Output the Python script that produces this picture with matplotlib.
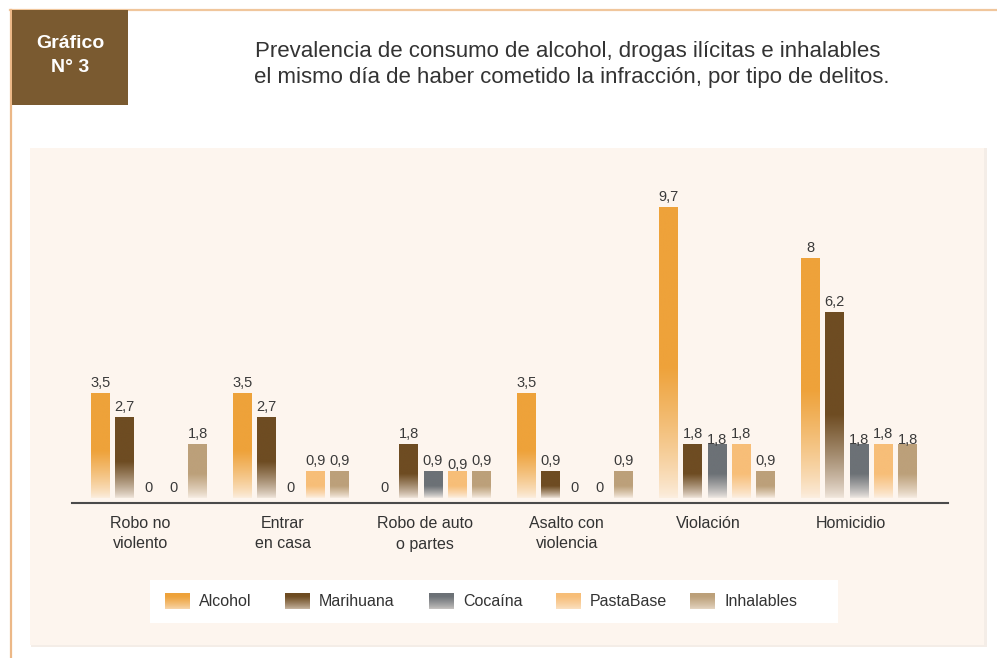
import numpy as np
import matplotlib
matplotlib.use("Agg")
import matplotlib.pyplot as plt
import matplotlib.font_manager as fm
from matplotlib.patches import Rectangle
from matplotlib.colors import to_rgb

# ---------------- data ----------------
categories = ["Robo no\nviolento", "Entrar\nen casa", "Robo de auto\no partes",
              "Asalto con\nviolencia", "Violación", "Homicidio"]
series = ["Alcohol", "Marihuana", "Cocaína", "PastaBase", "Inhalables"]
alcohol    = [3.5, 3.5, 0.0, 3.5, 9.7, 8.0]
marihuana  = [2.7, 2.7, 1.8, 0.9, 1.8, 6.2]
cocaina    = [0.0, 0.0, 0.9, 0.0, 1.8, 1.8]
pastabase  = [0.0, 0.9, 0.9, 0.0, 1.8, 1.8]
inhalables = [1.8, 0.9, 0.9, 0.9, 0.9, 1.8]
values = [alcohol, marihuana, cocaina, pastabase, inhalables]
title_lines = ["Prevalencia de consumo de alcohol, drogas ilícitas e inhalables",
               "el mismo día de haber cometido la infracción, por tipo de delitos."]

# ---------------- style ----------------
colors = ["#eea23a", "#6e4c22", "#6c7176", "#f7be78", "#bca07a"]
panel_bg = "#fdf5ee"
# small vertical nudges (points) for a few value labels, to avoid overlaps
label_nudge = {(2, 3): -3, (4, 2): -4, (5, 2): -4, (5, 4): -4}

names = {f.name for f in fm.fontManager.ttflist}
FONT = "Liberation Sans Narrow" if "Liberation Sans Narrow" in names else "Liberation Sans"
plt.rcParams["font.family"] = [FONT, "DejaVu Sans"]

W, H = 997, 658
fig = plt.figure(figsize=(W / 100, H / 100), dpi=100)
fig.patch.set_facecolor("white")

def fx(x):
    return x / W

def fy(y):
    return 1 - y / H

# frame lines
fig.add_artist(plt.Line2D([fx(10), fx(997)], [fy(10), fy(10)], color="#f0c69c", lw=1.6, zorder=-5))
fig.add_artist(plt.Line2D([fx(11), fx(11)], [fy(10), fy(658)], color="#ecb887", lw=1.6, zorder=-5))

# brown tag box
fig.add_artist(Rectangle((fx(12), fy(105)), fx(116), 95 / H, transform=fig.transFigure,
                         facecolor="#7a5a30", edgecolor="none", zorder=-4))
fig.text(fx(70), fy(44), "Gráfico", color="white", fontsize=14, fontweight="bold",
         ha="center", va="center")
fig.text(fx(70), fy(68), "N° 3", color="white", fontsize=14, fontweight="bold",
         ha="center", va="center")

# title
fig.text(fx(568), fy(52), title_lines[0], color="#333333", fontsize=16, ha="center", va="center")
fig.text(fx(572), fy(78), title_lines[1], color="#333333", fontsize=16, ha="center", va="center")

# panel (with faint shadow)
fig.add_artist(Rectangle((fx(31), fy(647)), 956 / W, 499 / H, transform=fig.transFigure,
                         facecolor="#f4ede7", edgecolor="none", zorder=-6))
fig.add_artist(Rectangle((fx(30), fy(645)), 954 / W, 497 / H, transform=fig.transFigure,
                         facecolor=panel_bg, edgecolor="none", zorder=-5))

# ---------------- main axes ----------------
ax = fig.add_axes([fx(72), fy(503), 876 / W, 330 / H])
ax.set_facecolor("none")
XLIM = (-0.542, 5.627)
YLIM = (-0.17, 10.83)
pitch = 0.171
bw = 0.130
x = np.arange(len(categories))

bg = np.array(to_rgb(panel_bg))

def gradient(color, n=200, lo=0.08, span=0.45, power=0.8):
    c = np.array(to_rgb(color))
    t = np.linspace(0, 1, n)  # 0 bottom -> 1 top
    m = np.clip(t / span, 0, 1) ** power
    m = lo + (1 - lo) * m
    arr = bg[None, :] * (1 - m[:, None]) + c[None, :] * m[:, None]
    return arr[:, None, :]

for j, (name, vals) in enumerate(zip(series, values)):
    bars = ax.bar(x + (j - 2) * pitch, vals, width=bw, facecolor="none",
                  edgecolor="none", label=name)
    grad = gradient(colors[j])
    for i, (b, v) in enumerate(zip(bars, vals)):
        x0 = b.get_x()
        if v > 0:
            ax.imshow(grad, extent=[x0, x0 + b.get_width(), 0, v], origin="lower",
                      aspect="auto", interpolation="bilinear", zorder=2)
        lbl = ("%g" % v).replace(".", ",")
        ax.annotate(lbl, xy=(x0 + b.get_width() / 2, v),
                    xytext=(0, 2 + label_nudge.get((i, j), 0)), textcoords="offset points",
                    ha="center", va="bottom", fontsize=10.5, color="#3a3a3a", zorder=3)

ax.set_xlim(*XLIM)
ax.set_ylim(*YLIM)
for s in ["top", "right", "left"]:
    ax.spines[s].set_visible(False)
ax.spines["bottom"].set_color("#4a4a4a")
ax.spines["bottom"].set_linewidth(1.5)
ax.set_yticks([])
ax.set_xticks([])

for i, cat in enumerate(categories):
    ax.annotate(cat, xy=(i, 0), xycoords=("data", "axes fraction"), xytext=(-6, -9),
                textcoords="offset points", ha="center", va="top", fontsize=11.5,
                color="#333333", linespacing=1.5)

# ---------------- legend ----------------
lax = fig.add_axes([fx(150), fy(623), 688 / W, 43 / H])
lax.set_facecolor("white")
for s in lax.spines.values():
    s.set_visible(False)
lax.set_xticks([])
lax.set_yticks([])
patch_x = [165, 285, 429, 556, 690]
for j, name in enumerate(series):
    lax.imshow(gradient(colors[j], lo=0.35, span=0.8), extent=[patch_x[j], patch_x[j] + 25, 609, 593],
               origin="lower", aspect="auto", interpolation="bilinear")
    lax.text(patch_x[j] + 34, 601.5, name, fontsize=11.5, color="#333333", ha="left", va="center")
lax.set_xlim(150, 838)
lax.set_ylim(623, 580)

fig.savefig("out.png", dpi=100, facecolor="white")
